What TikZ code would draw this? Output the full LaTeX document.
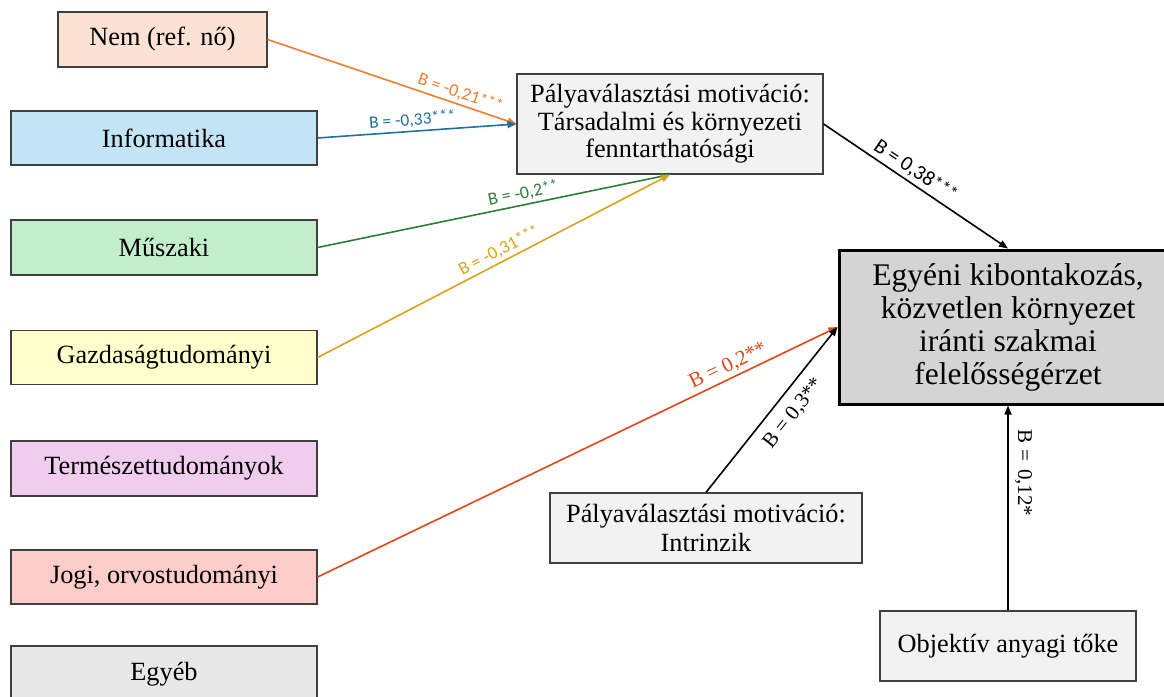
\documentclass[tikz,border=0pt]{standalone}
\usepackage{fontspec}
\setmainfont{Liberation Serif}
\newfontfamily\lblfont{Carlito}
\usetikzlibrary{arrows.meta}
\definecolor{boxline}{HTML}{3F3F3F}
\definecolor{cnem}{HTML}{FBE2D5}
\definecolor{cinfo}{HTML}{C3E4F5}
\definecolor{cmusz}{HTML}{C2EFCB}
\definecolor{cgazd}{HTML}{FFFFCC}
\definecolor{cterm}{HTML}{F0CDEE}
\definecolor{cjogi}{HTML}{FFCCCC}
\definecolor{cegyeb}{HTML}{E8E8E8}
\definecolor{cgray}{HTML}{F2F2F2}
\definecolor{cmain}{HTML}{D4D4D4}
\definecolor{aorange}{HTML}{ED7D31}
\definecolor{ablue}{HTML}{22709E}
\definecolor{agreen}{HTML}{2E7D3A}
\definecolor{agold}{HTML}{D9A21B}
\definecolor{ared}{HTML}{DE4719}
\newcommand{\mystars}[3]{{\fontsize{#2}{#2}\selectfont\raisebox{#3}{#1}}}
\tikzset{
  box/.style={draw=boxline, line width=1.2pt, align=center, inner sep=0pt,
    font=\fontsize{26.3}{27.5}\selectfont},
  arr/.style={line width=1.6pt, -{Triangle[length=9pt,width=7pt]}},
  lab/.style={sloped, inner sep=3pt, font=\lblfont\fontsize{18}{20}\selectfont},
  slab/.style={sloped, inner sep=3pt, font=\fontsize{21}{23}\selectfont},
}
\begin{document}
\begin{tikzpicture}[x=1pt,y=-1pt]
\useasboundingbox (0,0) rectangle (1164,696);
% left boxes
\node[box, fill=cnem, minimum width=209pt, minimum height=55pt] (nem) at (162.5,39.5) {Nem (ref. nő)};
\node[box, fill=cinfo, minimum width=306pt, minimum height=54pt] (info) at (164,138) {Informatika};
\node[box, fill=cmusz, minimum width=306pt, minimum height=55pt] (musz) at (164,247.5) {Műszaki};
\node[box, fill=cgazd, minimum width=306pt, minimum height=54pt] (gazd) at (164,357.5) {Gazdaságtudományi};
\node[box, fill=cterm, minimum width=306pt, minimum height=55pt] (term) at (164,468.5) {Természettudományok};
\node[box, fill=cjogi, minimum width=306pt, minimum height=54pt] (jogi) at (164,577) {Jogi, orvostudományi};
\node[box, fill=cegyeb, minimum width=306pt, minimum height=56pt] (egyeb) at (164,674) {Egyéb};
% middle / right boxes
\node[box, fill=cgray, minimum width=306pt, minimum height=100pt] (palya) at (670,124)
  {Pályaválasztási motiváció:\\Társadalmi és környezeti\\fenntarthatósági};
\node[box, fill=cmain, draw=black, line width=3pt, minimum width=338pt, minimum height=154pt,
  font=\fontsize{31.5}{33}\selectfont] (main) at (1008,327)
  {Egyéni kibontakozás,\\közvetlen környezet\\iránti szakmai\\felelősségérzet};
\node[box, fill=cgray, minimum width=312pt, minimum height=70pt, font=\fontsize{26.3}{29}\selectfont] (intr) at (706,528)
  {Pályaválasztási motiváció:\\Intrinzik};
\node[box, fill=cgray, minimum width=256pt, minimum height=70pt] (obj) at (1008,646) {Objektív anyagi tőke};
% arrows
\draw[arr, aorange] (nem.east) -- node[lab, above, pos=0.76, text=aorange] {B = -0,21\mystars{***}{16}{1.5pt}} (palya.west);
\draw[arr, ablue] (info.east) -- node[lab, above, pos=0.48, text=ablue, font=\lblfont\fontsize{17.5}{19}\selectfont] {B = -0,33\mystars{***}{16}{1.5pt}} (palya.west);
\draw[arr, agreen] (musz.east) -- node[lab, above, pos=0.59, text=agreen] {B = -0,2\mystars{**}{16}{1.5pt}} (palya.south);
\draw[arr, agold] (gazd.east) -- node[lab, above, pos=0.53, text=agold] {B = -0,31\mystars{***}{16}{1.5pt}} (palya.south);
\draw[arr, black] (palya.east) -- node[lab, above, pos=0.46, font=\lblfont\fontsize{21}{23}\selectfont] {B = 0,38\mystars{***}{18}{2pt}} (main.north);
\draw[arr, ared] (jogi.east) -- node[slab, above, pos=0.80, text=ared] {B = 0,2**} (main.west);
\draw[arr, black] (intr.north) -- node[slab, below=7pt, pos=0.55] {B = 0,3**} (main.west);
\draw[arr, black] (obj.north) -- node[pos=0.67, rotate=-90, anchor=south, inner sep=6pt, font=\fontsize{21}{23}\selectfont] {B =\hspace{3pt} 0,12*} (main.south);
\end{tikzpicture}
\end{document}
